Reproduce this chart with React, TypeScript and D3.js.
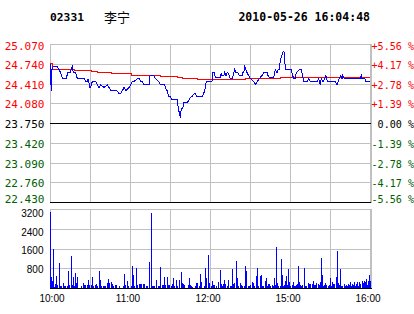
import React from 'react';
import * as d3 from 'd3';

// ---------- data ----------
const STOCK_CODE = '02331';
const STOCK_NAME = '李宁';
const TIMESTAMP = '2010-05-26 16:04:48';
const PREV_CLOSE = 23.75;

// left price axis labels (top to bottom)
const PRICE_TICKS = [25.07, 24.74, 24.41, 24.08, 23.75, 23.42, 23.09, 22.76, 22.43];
// right percent axis labels
const PCT_LABELS = ['+5.56 %', '+4.17 %', '+2.78 %', '+1.39 %', ' 0.00 %', '-1.39 %', '-2.78 %', '-4.17 %', '-5.56 %'];
// volume axis
const VOL_TICKS = [3200, 2400, 1600, 800];
const VOL_MAX = 3370;
// time axis (trading minutes since 10:00; lunch break removed)
const GRID_MINUTES = [0, 30, 60, 90, 120, 150, 180, 210, 240];
const TIME_LABEL_MINUTES = [0, 60, 120, 180, 240];
const TIME_LABELS = ['10:00', '11:00', '12:00', '15:00', '16:00'];

// last price line
const lineMinutes = [
  0, 0.4, 1, 1.5, 2.3, 5.3, 6.8, 8, 9.3, 12.5, 13, 15, 16.7, 17.5, 19.3, 20.5, 25.5, 26.8, 28, 28.7,
  29.8, 30.5, 31.7, 34.3, 35.5, 36.8, 38, 40.5, 43, 44.3, 45.5, 50, 51.8, 53, 54.3, 55.5, 56.8, 59.3,
  60.5, 61.8, 63, 65.5, 66.8, 68, 69.3, 70.5, 74.3, 75, 78, 79, 80.3, 81.5, 82.7, 86, 86.5, 87.8, 89,
  90.2, 91.5, 95.3, 96, 96.5, 97, 97.7, 98.5, 99.5, 100.3, 102.8, 104, 105.2, 106.5, 107.8, 109, 110.3,
  114, 115.3, 116.5, 117.2, 121.5, 122, 123.2, 124, 127.7, 128.5, 129, 130.3, 131, 132, 132.8, 133.5,
  134.5, 135.2, 136.5, 137.3, 138.5, 139.5, 141, 142, 144, 144.5, 145.3, 146, 147, 147.8, 149, 150.2,
  151.5, 152.8, 154, 155.3, 156.5, 157.7, 159, 160.3, 162.8, 163.5, 164.5, 167.8, 168.5, 169, 170.3,
  171, 172, 172.7, 174, 174.8, 175.5, 176, 176.5, 181, 182, 182.8, 184, 184.7, 185.8, 187, 188.3, 189,
  189.8, 190.3, 192.8, 194, 195.2, 196.5, 200.3, 201.5, 202.7, 203.5, 204.8, 206, 207, 208, 214, 215.3,
  216, 217, 218, 219, 219.5, 220.7, 232.7, 233.5, 234, 236, 237, 240,
];
const linePrices = [
  24.75, 24.55, 24.30, 24.65, 24.70, 24.70, 24.65, 24.60, 24.50, 24.50, 24.60, 24.60, 24.70, 24.60, 24.60, 24.50, 24.50, 24.45, 24.45, 24.50,
  24.35, 24.35, 24.45, 24.45, 24.40, 24.35, 24.40, 24.35, 24.40, 24.35, 24.30, 24.30, 24.25, 24.25, 24.30, 24.35, 24.30, 24.35,
  24.40, 24.45, 24.45, 24.50, 24.50, 24.45, 24.45, 24.40, 24.40, 24.55, 24.55, 24.50, 24.48, 24.45, 24.40, 24.40, 24.35, 24.30, 24.20,
  24.20, 24.15, 24.15, 24.05, 23.95, 23.95, 23.85, 24.00, 24.00, 24.10, 24.10, 24.13, 24.19, 24.20, 24.24, 24.25, 24.20,
  24.20, 24.25, 24.35, 24.45, 24.45, 24.60, 24.60, 24.52, 24.52, 24.60, 24.55, 24.55, 24.60, 24.55, 24.60, 24.60,
  24.55, 24.50, 24.50, 24.55, 24.65, 24.60, 24.60, 24.55, 24.55, 24.60, 24.60, 24.70, 24.65, 24.60, 24.55, 24.50,
  24.48, 24.45, 24.40, 24.45, 24.48, 24.52, 24.55, 24.60, 24.60, 24.55, 24.52, 24.52, 24.60, 24.65, 24.60,
  24.65, 24.65, 24.80, 24.90, 24.95, 24.95, 24.85, 24.65, 24.65, 24.55, 24.50, 24.50, 24.60, 24.62, 24.65, 24.65, 24.60,
  24.50, 24.45, 24.45, 24.50, 24.45, 24.45, 24.45, 24.50, 24.40, 24.50, 24.45, 24.50, 24.55, 24.45, 24.45, 24.40,
  24.45, 24.50, 24.55, 24.50, 24.55, 24.50, 24.50, 24.55, 24.50, 24.50, 24.45, 24.45,
];

// average price line
const avgMinutes = [0, 1.5, 10.5, 18, 30.75, 35.25, 45.75, 60.75, 76.5, 82.5, 95.25, 99, 110.25, 146.25, 172.5, 240];
const avgPrices = [24.75, 24.66, 24.65, 24.64, 24.62, 24.60, 24.58, 24.56, 24.55, 24.535, 24.52, 24.50, 24.48, 24.50, 24.515, 24.515];

// volume bars
const volMinutes = [
  0, 0.75, 1.5, 2.5, 3.25, 4, 4.75, 5.5, 7, 7.75, 8.75, 10, 10.75, 11.5, 12.75, 13.75, 14.5, 16, 16.75, 17.5,
  18.25, 19, 19.75, 20.5, 21.25, 23.75, 25, 25.75, 26.5, 28, 28.75, 29.5, 31, 31.75, 32.5, 34, 34.75, 35.5,
  36.75, 37.5, 38.5, 40, 40.75, 41.5, 43, 43.75, 44.5, 46, 46.75, 47.5, 49, 50, 52, 55, 55.75, 56.5, 58,
  58.75, 61, 61.75, 62.5, 63.25, 64.5, 65.25, 67, 67.75, 68.5, 70, 70.75, 72.5, 73.25, 74.5, 76,
  77, 77.75, 78.5, 79.75, 81, 82, 82.75, 84, 84.75, 85.75, 86.5, 87.75, 88.5, 89.5, 90.75, 91.5, 92.5,
  93.25, 94.5, 95.5, 97, 98.5, 99.25, 100.25, 101, 103.5, 104.5, 105.25, 106.25, 107, 109, 110, 110.75,
  112, 113, 113.75, 115.5, 116.5, 117.5, 118.5, 119.25, 121, 121.75, 122.5, 123.25, 124.75, 126, 126.75,
  127.75, 128.5, 129.25, 130, 131, 131.75, 133, 134.25, 135.25, 136, 136.75, 137.5, 138.25, 139.75, 140.5,
  141.25, 142.75, 143.5, 144.5, 145.75, 146.5, 147.25, 148.75, 149.5, 150.25, 151.5, 152.25, 153.25,
  154.75, 155.5, 156.25, 157.75, 158.5,
  159.5, 160.25, 161.25, 162, 163, 163.75, 164.5, 165.5, 166.5, 167.25, 168.25, 169, 169.75, 170.5, 171.25,
  172.75, 173.5, 174.25, 175, 175.75, 176.5, 177.25, 178, 179, 179.75, 180.5, 181.5, 182.25, 183, 184,
  184.75, 185.5, 186.25, 187, 187.75, 188.5, 189.5, 190.75, 191.5, 192.25, 194, 194.75, 195.5, 196.5,
  197.5, 198.25, 199.25, 200, 201, 201.75, 202.5, 203.5, 204.25, 205, 205.75, 206.5, 207.5, 209, 209.75,
  210.5, 211.25, 212, 212.75, 213.5, 214.5, 215.5, 216.25, 217, 217.75, 218.5, 219.25, 220.5, 221.5,
  222.25, 223, 223.75, 224.5, 225.25, 226, 226.75, 227.5, 228.25, 229, 229.75, 230.5, 231.5, 232.25, 233,
  234, 234.75, 235.5, 236.5, 237.25, 238, 238.75, 239.5, 240,
];
const volValues = [
  3270, 500, 310, 1700, 70, 200, 540, 140, 1100, 100, 100, 250, 100, 100, 100, 740, 140, 1390, 140, 480,
  100, 650, 240, 480, 30, 100, 230, 140, 140, 140, 350, 170, 140, 480, 100, 140, 185, 100,
  740, 350, 100, 100, 100, 100, 230, 400, 230, 270, 185, 100, 140, 140, 100, 100, 610, 140, 310,
  100, 100, 950, 570, 100, 870, 140, 185, 185, 185, 185, 185, 100, 100, 1120, 3240,
  100, 100, 100, 350, 100, 100, 910, 140, 140, 480, 140, 480, 140, 140, 100, 185, 440,
  100, 350, 100, 350, 700, 230, 185, 140, 140, 440, 140, 100, 60, 100, 230, 230,
  100, 610, 270, 100, 870, 440, 1420, 230, 100, 310, 140, 140, 100, 270, 100,
  780, 185, 100, 185, 350, 185, 100, 350, 100, 100, 825, 185, 230, 1165, 440,
  100, 230, 140, 100, 100, 950, 740, 100, 100, 140, 270, 230, 100,
  525, 870, 100, 525, 570,
  100, 100, 330, 440, 100, 185, 185, 100, 140, 100, 440, 140, 1760, 230, 100,
  100, 1250, 570, 100, 140, 310, 525, 140, 825, 270, 100, 140, 270, 100, 100,
  140, 185, 950, 270, 140, 100, 140, 870, 100, 100, 230, 185, 185, 185,
  310, 140, 140, 230, 185, 140, 270, 1290, 570, 100, 140, 230, 140, 100, 140,
  440, 100, 270, 185, 185, 480, 1590, 230, 140, 825, 100, 100, 185, 100,
  140, 100, 185, 140, 270, 100, 185, 140, 270, 100, 185, 270, 100, 270, 185,
  310, 230, 310, 270, 400, 140, 310, 570, 310,
];

// ---------- styles ----------
const GRID = '#c0c0c0';
const RED = '#ff0000';
const GREEN = '#006000';
const BLUE = '#0000ff';
const MONO = '"DejaVu Sans Mono", "Liberation Mono", monospace';
const SANS = '"Liberation Sans", Arial, sans-serif';

export default function App() {
  const W = 414;
  const H = 314;
  const left = 50;
  const right = 370;
  const pTop = 44.5;
  const pBottom = 202.5;
  const vTop = 209.5;
  const vBottom = 288.5;

  const x = d3.scaleLinear().domain([0, 240]).range([left, right]);
  const py = d3.scaleLinear().domain([22.43, 25.07]).range([pBottom, pTop]);
  const vy = d3.scaleLinear().domain([0, VOL_MAX]).range([vBottom, vTop]);

  const snap = (v: number) => Math.floor(v) + 0.5;

  const priceLine = d3
    .line<number>()
    .x((_, i) => x(lineMinutes[i]))
    .y((p) => py(p));
  const avgLine = d3
    .line<number>()
    .x((_, i) => x(avgMinutes[i]))
    .y((p) => py(p))
    .curve(d3.curveStepAfter);

  const colorFor = (v: number) => (v > PREV_CLOSE + 1e-9 ? RED : v < PREV_CLOSE - 1e-9 ? GREEN : '#000');
  const labelBase = (v: number) => Math.min(Math.max(py(v) + 4.5, 50), 202.7);

  const volGrid = [0, 1, 2, 3].map((i) => vTop + ((vBottom - vTop) * i) / 4);

  return (
    <svg
      width={W}
      height={H}
      style={{ position: 'absolute', left: 0, top: 0, background: '#fff' }}
    >
      <rect x={0} y={0} width={W} height={H} fill="#fff" />

      {/* header */}
      <text x={50} y={21} fontFamily={MONO} fontSize={11.3} fontWeight="bold" fill="#000">
        {STOCK_CODE}
      </text>
      <text x={104} y={22} fontFamily='"Noto Sans CJK SC", sans-serif' fontSize={13} fill="#000">
        {STOCK_NAME}
      </text>
      <text x={370} y={21} textAnchor="end" fontFamily={MONO} fontSize={11.5} fontWeight="bold" fill="#000">
        {TIMESTAMP}
      </text>

      {/* price panel grid */}
      <g shapeRendering="crispEdges">
        {GRID_MINUTES.map((m) => (
          <line key={'vg' + m} x1={snap(x(m))} x2={snap(x(m))} y1={pTop} y2={pBottom} stroke={GRID} />
        ))}
        {PRICE_TICKS.map((v) => (
          <line
            key={'hg' + v}
            x1={left}
            x2={right + 1.5}
            y1={snap(py(v))}
            y2={snap(py(v))}
            stroke={Math.abs(v - PREV_CLOSE) < 1e-9 || v === 22.43 ? '#000' : GRID}
          />
        ))}
        <line x1={right + 1.5} x2={right + 1.5} y1={pTop - 0.5} y2={pBottom} stroke={GRID} />
      </g>

      {/* left price labels */}
      {PRICE_TICKS.map((v) => (
        <text
          key={'pl' + v}
          x={44.5}
          y={labelBase(v)}
          textAnchor="end"
          fontFamily={MONO}
          fontSize={11}
          fill={colorFor(v)}
        >
          {v.toFixed(3)}
        </text>
      ))}
      {/* right percent labels */}
      {PRICE_TICKS.map((v, i) => (
        <text
          key={'rl' + v}
          x={371.5}
          y={labelBase(v)}
          fontFamily={MONO}
          fontSize={10.1}
          fill={colorFor(v)}
          xmlSpace="preserve"
          style={{ whiteSpace: 'pre' }}
        >
          {PCT_LABELS[i]}
        </text>
      ))}

      {/* average and price lines */}
      <path d={avgLine(avgPrices) || ''} fill="none" stroke={RED} strokeWidth={1} shapeRendering="crispEdges" />
      <path d={priceLine(linePrices) || ''} fill="none" stroke={BLUE} strokeWidth={1} shapeRendering="crispEdges" />

      {/* volume panel grid */}
      <g shapeRendering="crispEdges">
        {GRID_MINUTES.map((m) => (
          <line key={'vvg' + m} x1={snap(x(m))} x2={snap(x(m))} y1={vTop} y2={vBottom} stroke={GRID} />
        ))}
        {volGrid.map((y, i) => (
          <line key={'vhg' + i} x1={left} x2={right + 1.5} y1={snap(y)} y2={snap(y)} stroke={GRID} />
        ))}
        <line x1={right + 1.5} x2={right + 1.5} y1={vTop} y2={vBottom} stroke={GRID} />
      </g>

      {/* volume bars */}
      <g shapeRendering="crispEdges" fill={BLUE}>
        {volValues.map((v, i) => {
          const bx = Math.floor(x(volMinutes[i]));
          const top = vy(v);
          return <rect key={'vb' + i} x={bx} y={top} width={1} height={vBottom - top} />;
        })}
      </g>
      <line x1={left} x2={right + 2} y1={snap(vBottom)} y2={snap(vBottom)} stroke="#000" shapeRendering="crispEdges" />

      {/* volume labels */}
      {VOL_TICKS.map((v) => (
        <text key={'vl' + v} x={43.5} y={vy(v) + 3.5} textAnchor="end" fontFamily={SANS} fontSize={10} fill="#000">
          {v}
        </text>
      ))}

      {/* time labels */}
      {TIME_LABEL_MINUTES.map((m, i) => (
        <text
          key={'tl' + m}
          x={x(m) + (i === 0 ? 2 : -2)}
          y={302.3}
          textAnchor="middle"
          fontFamily={SANS}
          fontSize={10}
          fill="#000"
        >
          {TIME_LABELS[i]}
        </text>
      ))}
    </svg>
  );
}
